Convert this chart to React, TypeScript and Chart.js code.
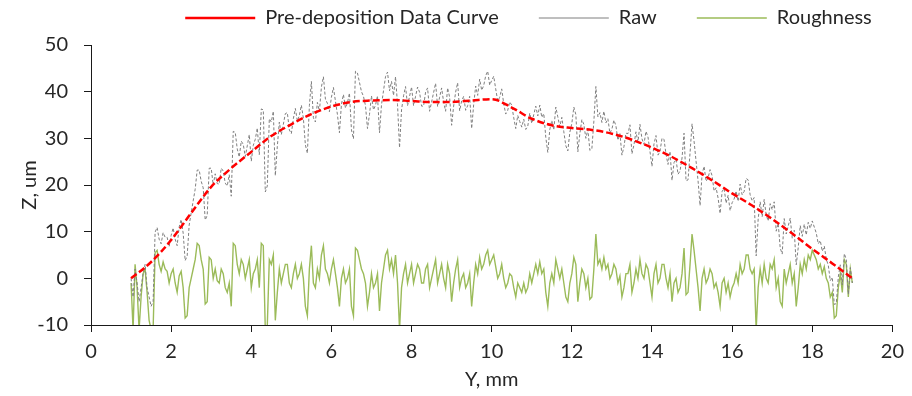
import React, { useEffect, useRef } from "react";
import { Chart, registerables } from "chart.js";

Chart.register(...registerables);

// Sampling grid of the profile (Y, mm)
const Y_START = 1;
const Y_STEP = 0.05;

// Raw profile Z (um), one value per 0.05 mm from Y = 1.00 to 19.00 (20 per row = 1 mm)
const RAW: number[] = [
  0, -4, 2, -1, -5, -2, 1, 3, -2, -4, -6, -5, 9.9, 10.9, 8.4, 7.4, 9.8, 8.8, 8.8, 6.8,
  9.2, 10.8, 8.4, 7, 11, 12.6, 9.7, 3.8, 4.8, 11.4, 14, 16.6, 19.1, 23.2, 23.2, 20.8, 19.4, 12.5, 13.5, 23.6,
  23.6, 20, 22.4, 20.3, 20.2, 23.6, 23, 20.4, 19.8, 22.2, 17.6, 31.5, 31.3, 27.7, 26, 29.4, 28.7, 26.1, 28.4, 30.8,
  25.1, 28.5, 29.8, 32.2, 26.5, 36.3, 36.1, 18.5, 19.8, 34.2, 33.5, 35.8, 22, 28.3, 33.5, 30.8, 33, 35.3, 35.5, 31.8,
  31, 34.2, 36.4, 33.7, 34.9, 37.1, 34.3, 28.6, 26.8, 37, 42.2, 34.4, 33.5, 37.7, 35.8, 41, 43.2, 38.4, 37.5, 35.7,
  38.8, 40.9, 38, 35.1, 31.2, 37.3, 39.4, 36.5, 37.6, 39.7, 31.8, 29.9, 44.4, 44, 42, 40, 39, 37, 32.1, 35.1,
  39.1, 36.1, 37.1, 39.1, 31.2, 37.2, 40.2, 43.2, 44.2, 40.2, 42.2, 39.2, 43.2, 37.2, 28, 36.1, 39.1, 41.1, 37, 39,
  41, 37, 39, 41, 39.9, 36.9, 36.9, 39.9, 40.8, 35.8, 37.8, 39.8, 41.8, 36.8, 38.8, 40.8, 37.8, 35.8, 40.8, 38.8,
  32.8, 36.9, 39.9, 41.9, 35.9, 38, 39, 36, 37, 39, 32.1, 37.2, 41.2, 39.2, 42.7, 40.3, 41.3, 43.4, 44.4, 41.4,
  42.4, 43.3, 40.6, 38, 38.8, 40.6, 37.4, 35.2, 36, 37.8, 37.1, 34.4, 32.1, 34.9, 33.6, 32.4, 34.1, 31.9, 32.6, 35.4,
  33.2, 35.1, 36.9, 34.8, 37.1, 34.5, 35.3, 30.2, 27, 31.9, 33.8, 31.8, 36.7, 34.6, 32.5, 34.5, 31.4, 28.4, 27.3, 31.3,
  33.2, 36.7, 35.1, 27.1, 31, 34, 33, 30, 31.9, 27.4, 27.8, 33.7, 41.1, 34.6, 35.5, 33.4, 35.8, 33.3, 34.2, 31.1,
  32, 33.9, 32.7, 29.6, 31, 26.4, 28.2, 31.1, 31, 32.9, 26.7, 28.6, 31.4, 29.2, 33, 29.9, 28.7, 31.5, 30.3, 27.2,
  24, 28.8, 30.6, 26.4, 27.2, 30, 29.8, 26.6, 24.4, 27.2, 21, 24.8, 25.5, 22.3, 23, 25.8, 31.1, 20.9, 21.1, 26.9,
  33.1, 29.4, 25.1, 20.9, 15.6, 22.3, 24, 20.8, 21.5, 23.3, 22, 18.7, 19.4, 17.2, 13.9, 18.6, 19.3, 16.1, 17.8, 14.5,
  16.2, 17, 18.7, 16.5, 20.2, 17.9, 18.6, 21.4, 21.1, 17.9, 16.6, 17.3, 4.8, 12.7, 16.4, 13.2, 16.9, 13.6, 12.3, 16,
  14.7, 16.4, 10.1, 11.8, 6.5, 5.2, 12.8, 9.5, 11.2, 12.9, 8.6, 10.3, 2.9, 6.6, 11.3, 9, 11.6, 9.3, 12, 10.7,
  12.3, 11, 9.7, 7.4, 8.1, 5.8, 6.9, 4.1, 2.8, -0.5, 0.2, -5.6, -5.4, 0.3, 2.9, -1.4, 5.3, 4, -3.4, 2.3,
  -1,
];

// Roughness Z (um), same grid
const ROUGHNESS: number[] = [
  -1, -11, 3, -2, -11, -4, 1, 2, -3, -9, -11, -11, 5.5, 6, 3, 1.5, 3.5, 2, 1.5, -1,
  1, 2, -1, -3, 0.5, 1.5, -2, -8.5, -8, -2, 0, 2, 4, 7.5, 7, 4, 2, -5.5, -5, 4.5,
  4, 0, 2, -0.5, -1, 2, 1, -2, -3, -1, -6, 7.5, 7, 3, 1, 4, 3, 0, 2, 4,
  -2, 1, 2, 4, -2, 7.5, 7, -11, -10, 4, 3, 5, -9, -3, 2, -1, 1, 3, 3, -1,
  -2, 1, 3, 0, 1, 3, 0, -6, -8, 2, 7, -1, -2, 2, 0, 5, 7, 2, 1, -1,
  2, 4, 1, -2, -6, 0, 2, -1, 0, 2, -6, -8, 6.5, 6, 4, 2, 1, -1, -6, -3,
  1, -2, -1, 1, -7, -1, 2, 5, 6, 2, 4, 1, 5, -1, -11, -2, 1, 3, -1, 1,
  3, -1, 1, 3, 2, -1, -1, 2, 3, -2, 0, 2, 4, -1, 1, 3, 0, -2, 3, 1,
  -5, -1, 2, 4, -2, 0, 1, -2, -1, 1, -6, -1, 3, 1, 4.5, 2, 3, 5, 6, 3,
  4, 5, 2.5, 0, 1, 3, 0, -2, -1, 1, 0.5, -2, -4, -1, -2, -3, -1, -3, -2, 1,
  -1, 1, 3, 1, 3.5, 1, 2, -3, -6, -1, 1, -1, 4, 2, 0, 2, -1, -4, -5, -1,
  1, 4.5, 3, -5, -1, 2, 1, -2, 0, -4.5, -4, 2, 9.5, 3, 4, 2, 4.5, 2, 3, 0,
  1, 3, 2, -1, 0.5, -4, -2, 1, 1, 3, -3, -1, 2, 0, 4, 1, 0, 3, 2, -1,
  -4, 1, 3, -1, 0, 3, 3, 0, -2, 1, -5, -1, 0, -3, -2, 1, 6.5, -3.5, -3, 3,
  9.5, 6, 2, -2, -7, 0, 2, -1, 0, 2, 1, -2, -1, -3, -6, -1, 0, -3, -1, -4,
  -2, -1, 1, -1, 3, 1, 2, 5, 5, 2, 1, 2, -11, -2, 2, -1, 3, 0, -1, 3,
  2, 4, -2, 0, -5, -6, 2, -1, 1, 3, -1, 1, -6, -2, 3, 1, 4, 2, 5, 4,
  6, 5, 4, 2, 3, 1, 2.5, 0, -1, -4, -3, -8.5, -8, -2, 1, -3, 4, 3, -4, 2,
  -1,
];

// Pre-deposition data curve
const CURVE_Y: number[] = [
  1, 1.5, 2, 2.5, 3, 3.5, 4, 4.5, 5, 5.5, 6, 6.5, 7, 7.5, 8, 8.5, 9, 9.5,
  10, 10.5, 11, 11.5, 12, 12.5, 13, 13.5, 14, 14.5, 15, 15.5, 16, 16.5, 17,
  17.5, 18, 18.5, 19,
];
const CURVE_Z: number[] = [
  0, 3.5, 8.2, 14.0, 19.6, 23.6, 27.1, 30.5, 33.0, 35.2, 36.8, 37.8, 38.1,
  38.2, 38.0, 37.8, 37.8, 38.1, 38.4, 36.6, 34.2, 32.8, 32.2, 31.8, 31.0,
  29.7, 28.0, 26.0, 23.6, 21.0, 18.2, 15.6, 12.7, 9.6, 6.3, 3.2, 0,
];

const SERIES_NAMES = ["Pre-deposition Data Curve", "Raw", "Roughness"];
const X_TITLE = "Y, mm";
const Y_TITLE = "Z, um";
const X_MIN = 0, X_MAX = 20, X_STEP = 2;
const Y_MIN = -10, Y_MAX = 50, Y_TICK = 10;

const FONT_FAMILY = "Lato, 'Open Sans', sans-serif";
const FONT_SIZE = 20;
const TEXT_COLOR = "#262626";
const AXIS_COLOR = "#1a1a1a";

export default function App() {
  const ref = useRef<HTMLCanvasElement | null>(null);

  useEffect(() => {
    if (!ref.current) return;
    const grid = RAW.map((_, i) => Math.round((Y_START + i * Y_STEP) * 1000) / 1000);
    const font = { family: FONT_FAMILY, size: FONT_SIZE };

    const placeLegend = {
      id: "placeLegend",
      afterLayout(chart: any) {
        const l = chart.legend;
        if (l) {
          const dx = 75;
          const dy = -32;
          l.left += dx;
          l.right += dx;
          l.top += dy;
        }
      },
    };

    const chart = new Chart(ref.current, {
      type: "line",
      data: {
        datasets: [
          {
            label: SERIES_NAMES[0],
            data: CURVE_Y.map((y, i) => ({ x: y, y: CURVE_Z[i] })),
            borderColor: "#FF0000",
            backgroundColor: "#FF0000",
            borderWidth: 2.5,
            borderDash: [7, 3],
            pointRadius: 0,
            cubicInterpolationMode: "monotone",
            fill: false,
          },
          {
            label: SERIES_NAMES[1],
            data: grid.map((y, i) => ({ x: y, y: RAW[i] })),
            borderColor: "#7F7F7F",
            backgroundColor: "#7F7F7F",
            borderWidth: 1,
            borderDash: [3, 2],
            pointRadius: 0,
            tension: 0,
            fill: false,
          },
          {
            label: SERIES_NAMES[2],
            data: grid.map((y, i) => ({ x: y, y: ROUGHNESS[i] })),
            borderColor: "#9BBB59",
            backgroundColor: "#9BBB59",
            borderWidth: 1.4,
            pointRadius: 0,
            tension: 0,
            fill: false,
          },
        ],
      },
      options: {
        animation: false,
        responsive: true,
        maintainAspectRatio: false,
        layout: { padding: { left: 10, right: 15, top: 0, bottom: 4 } },
        plugins: {
          tooltip: { enabled: false },
          legend: {
            position: "top",
            maxHeight: 45,
            labels: {
              font,
              color: TEXT_COLOR,
              usePointStyle: true,
              pointStyle: "line",
              pointStyleWidth: 70,
              padding: 40,
            },
          },
        },
        scales: {
          x: {
            type: "linear",
            min: X_MIN,
            max: X_MAX,
            ticks: { stepSize: X_STEP, font, color: TEXT_COLOR, padding: 8, maxRotation: 0 },
            grid: { display: true, drawOnChartArea: false, drawTicks: true, tickLength: 7, color: AXIS_COLOR },
            border: { display: true, color: AXIS_COLOR, width: 1 },
            title: { display: true, text: X_TITLE, font, color: TEXT_COLOR, padding: { top: 0, bottom: 0 } },
            afterFit(scale: any) {
              scale.height = 396 - 325 - 4;
            },
          },
          y: {
            type: "linear",
            min: Y_MIN,
            max: Y_MAX,
            ticks: { stepSize: Y_TICK, font, color: TEXT_COLOR, padding: 16 },
            grid: { display: true, drawOnChartArea: false, drawTicks: true, tickLength: 7, color: AXIS_COLOR },
            border: { display: true, color: AXIS_COLOR, width: 1 },
            title: { display: true, text: Y_TITLE, font, color: TEXT_COLOR, padding: { top: 8, bottom: 0 } },
            afterFit(scale: any) {
              scale.width = 91 - 10;
            },
          },
        },
      },
      plugins: [placeLegend],
    });
    return () => chart.destroy();
  }, []);

  return (
    <div style={{ position: "fixed", left: 0, top: 0, width: 912, height: 396, background: "#fff" }}>
      <canvas ref={ref} />
    </div>
  );
}
